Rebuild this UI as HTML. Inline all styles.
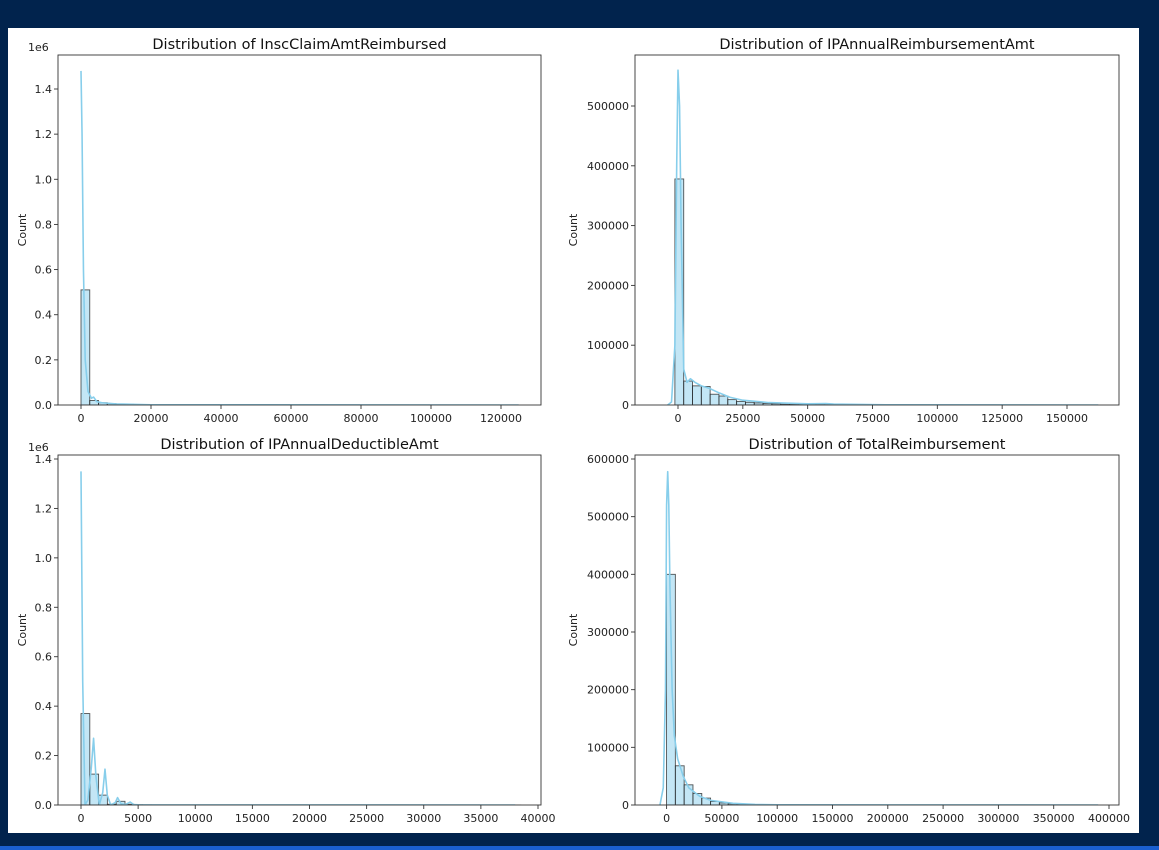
<!DOCTYPE html>
<html><head><meta charset="utf-8"><style>
html,body{margin:0;padding:0;width:1159px;height:850px;overflow:hidden;background:#01234d;}
svg{display:block;font-family:"DejaVu Sans","Liberation Sans",sans-serif;}
</style></head><body>
<svg id="fig" width="1159" height="850" viewBox="0 0 1159 850" xmlns="http://www.w3.org/2000/svg">
<rect x="0" y="0" width="1159" height="850" fill="#01234d"/>
<rect x="0" y="846" width="1159" height="4" fill="#1a5fd0"/>
<rect x="8" y="28" width="1131" height="805" fill="#ffffff"/>
</svg>
<script>
// ---- Panel 1: InscClaimAmtReimbursed ----
const p1BinStart = 0;
const p1BinWidth = 2500;
const p1Counts = [510000,20000,10000,6000,4000,3000,2000,1500,1000,800,600,500,400,300,250,200,150,120,100,80,60,50,40,30,30,20,20,15,10,10,10,8,6,5,4,3,3,2,2,2,1,1,1,1,1,1,1,1,1,1];
const p1KdeX = [0,300,700,1200,2000,3000,3600,4500,6000,10000,20000,125000];
const p1KdeY = [1480000,1200000,600000,200000,60000,30000,35000,15000,10000,5000,1000,0];
const p1YTicks = [0,0.2e6,0.4e6,0.6e6,0.8e6,1.0e6,1.2e6,1.4e6];
const p1YLabels = ["0.0","0.2","0.4","0.6","0.8","1.0","1.2","1.4"];
const p1XTicks = [0,20000,40000,60000,80000,100000,120000];

// ---- Panel 2: IPAnnualReimbursementAmt ----
const p2BinStart = -8000;
const p2BinWidth = 3400;
const p2Counts = [0,0,378000,40000,32000,31000,18000,15000,9000,6000,4500,3500,2500,2000,1500,1200,1000,900,700,500,400,300,250,200,150,120,100,80,60,50,40,30,25,20,15,10,10,8,6,5,4,3,3,2,2,1,1,1,1,1];
const p2KdeX = [-4000,-2500,-1200,-500,0,600,1200,2200,3500,4800,6500,9000,12000,16000,20000,25000,35000,50000,57000,60000,80000,162000];
const p2KdeY = [0,5000,100000,400000,560000,500000,300000,60000,38000,44000,38000,32000,28000,20000,13000,8000,4000,2000,2500,1500,300,0];
const p2YTicks = [0,100000,200000,300000,400000,500000];
const p2XTicks = [0,25000,50000,75000,100000,125000,150000];

// ---- Panel 3: IPAnnualDeductibleAmt ----
const p3BinStart = 0;
const p3BinWidth = 770;
const p3Counts = [370000,125000,40000,3000,15000,3000,1000,500,300,200,150,100,80,60,50,40,30,20,20,15,10,10,8,6,5,4,3,3,2,2,2,1,1,1,1,1,1,1,1,1,1,1,1,1,1,1,1,1,1,1];
const p3KdeX = [0,150,350,600,900,1100,1300,1600,1900,2100,2300,2600,3000,3200,3500,3900,4300,4600,5000,6000,38000];
const p3KdeY = [1350000,500000,0,20000,150000,270000,120000,0,50000,145000,40000,0,10000,30000,5000,2000,12000,2000,1000,500,0];
const p3YTicks = [0,0.2e6,0.4e6,0.6e6,0.8e6,1.0e6,1.2e6,1.4e6];
const p3YLabels = ["0.0","0.2","0.4","0.6","0.8","1.0","1.2","1.4"];
const p3XTicks = [0,5000,10000,15000,20000,25000,30000,35000,40000];

// ---- Panel 4: TotalReimbursement ----
const p4BinStart = -8000;
const p4BinWidth = 7960;
const p4Counts = [0,400000,68000,35000,20000,12000,6000,3500,2000,1200,800,600,400,300,200,150,120,100,80,60,50,40,30,25,20,15,10,10,8,6,5,4,3,3,2,2,2,1,1,1,1,1,1,1,1,1,1,1,1,1];
const p4KdeX = [-6000,-3000,-1000,0,1000,2000,3000,5000,7000,10000,15000,20000,30000,40000,60000,80000,100000,390000];
const p4KdeY = [0,30000,200000,520000,578000,520000,380000,200000,120000,80000,50000,30000,15000,8000,3000,1000,300,0];
const p4YTicks = [0,100000,200000,300000,400000,500000,600000];
const p4XTicks = [0,50000,100000,150000,200000,250000,300000,350000,400000];

const NS = "http://www.w3.org/2000/svg";
const fig = document.getElementById("fig");
function mk(tag, attrs, parent){
  const e = document.createElementNS(NS, tag);
  for (const k in attrs) e.setAttribute(k, attrs[k]);
  (parent||fig).appendChild(e);
  return e;
}
function fmtInt(v){ return String(Math.round(v)); }

function panel(cfg){
  const g = mk("g", {});
  
  
  const {x0,x1,y0,y1} = cfg.box;
  // linear scales calibrated from two reference ticks
  const sx = v => cfg.xa.p0 + (v - cfg.xa.v0) * (cfg.xa.p1 - cfg.xa.p0) / (cfg.xa.v1 - cfg.xa.v0);
  const sy = v => cfg.ya.p0 + (v - cfg.ya.v0) * (cfg.ya.p1 - cfg.ya.p0) / (cfg.ya.v1 - cfg.ya.v0);
  const clip = "clip-" + cfg.name;
  const cp = mk("clipPath", {id: clip}, g);
  mk("rect", {x:x0, y:y0, width:x1-x0, height:y1-y0}, cp);
  // bars
  const bars = mk("g", {"clip-path":"url(#"+clip+")"}, g);
  
  
  cfg.counts.forEach((c, i) => {
    if (c <= 0) return;
    const a = cfg.binStart + i*cfg.binWidth, b = a + cfg.binWidth;
    const top = sy(c), base = sy(0);
    const r = mk("rect", {x:sx(a), y:top, width:Math.max(0.1, sx(b)-sx(a)), height:Math.max(0, base-top),
      fill:"rgba(135,206,235,0.5)", stroke:"rgba(30,30,30,0.75)", "stroke-width":0.9});
    bars.appendChild(r);
    
    
  });
  // kde
  let d = "";
  cfg.kdeX.forEach((xv, i) => { d += (i ? "L" : "M") + sx(xv).toFixed(2) + "," + sy(cfg.kdeY[i]).toFixed(2); });
  const kde = mk("path", {d:d, fill:"none", stroke:"#87ceeb", "stroke-width":1.6, "stroke-linejoin":"round", "clip-path":"url(#"+clip+")"}, g);
  
  
  // frame
  const fr = mk("rect", {x:x0, y:y0, width:x1-x0, height:y1-y0, fill:"none", stroke:"#333", "stroke-width":0.9}, g);
  
  
  // y ticks
  cfg.yTicks.forEach((t, i) => {
    const y = sy(t);
    mk("line", {x1:x0-4, x2:x0, y1:y, y2:y, stroke:"#333", "stroke-width":0.9}, g);
    const tx = mk("text", {x:x0-6, y:y+4, "text-anchor":"end", "font-size":11, fill:"#222"}, g);
    tx.textContent = cfg.yLabels ? cfg.yLabels[i] : fmtInt(t);
    
    
  });
  // x ticks
  cfg.xTicks.forEach(t => {
    const x = sx(t);
    mk("line", {x1:x, x2:x, y1:y1, y2:y1+4, stroke:"#333", "stroke-width":0.9}, g);
    const tx = mk("text", {x:x, y:y1+17, "text-anchor":"middle", "font-size":11, fill:"#222"}, g);
    tx.textContent = fmtInt(t);
    
    
  });
  // title
  const ti = mk("text", {x:(x0+x1)/2, y:y0-6, "text-anchor":"middle", "font-size":14.5, fill:"#111"}, g);
  ti.textContent = cfg.title;
  
  
  // y label
  const yl = mk("text", {x:cfg.ylx, y:(y0+y1)/2, "text-anchor":"middle", "font-size":11, fill:"#222",
    transform:"rotate(-90 "+cfg.ylx+" "+((y0+y1)/2)+")"}, g);
  yl.textContent = "Count";
  
  
  if (cfg.offset) {
    const of = mk("text", {x:x0-30, y:y0-4, "font-size":11, fill:"#222"}, g);
    of.textContent = cfg.offset;
    
    
  }
}

panel({name:"panel-insc-claim", title:"Distribution of InscClaimAmtReimbursed",
  box:{x0:58,x1:541,y0:55,y1:405}, xa:{v0:0,p0:81,v1:120000,p1:501}, ya:{v0:0,p0:405,v1:1.4e6,p1:89},
  binStart:p1BinStart, binWidth:p1BinWidth, counts:p1Counts, kdeX:p1KdeX, kdeY:p1KdeY,
  yTicks:p1YTicks, yLabels:p1YLabels, xTicks:p1XTicks, ylx:26, offset:"1e6"});
panel({name:"panel-ip-reimbursement", title:"Distribution of IPAnnualReimbursementAmt",
  box:{x0:635,x1:1119,y0:55,y1:405}, xa:{v0:0,p0:678,v1:150000,p1:1067}, ya:{v0:0,p0:405,v1:500000,p1:106},
  binStart:p2BinStart, binWidth:p2BinWidth, counts:p2Counts, kdeX:p2KdeX, kdeY:p2KdeY,
  yTicks:p2YTicks, xTicks:p2XTicks, ylx:577});
panel({name:"panel-ip-deductible", title:"Distribution of IPAnnualDeductibleAmt",
  box:{x0:58,x1:541,y0:455,y1:805}, xa:{v0:0,p0:81,v1:40000,p1:538}, ya:{v0:0,p0:805,v1:1.4e6,p1:459},
  binStart:p3BinStart, binWidth:p3BinWidth, counts:p3Counts, kdeX:p3KdeX, kdeY:p3KdeY,
  yTicks:p3YTicks, yLabels:p3YLabels, xTicks:p3XTicks, ylx:26, offset:"1e6"});
panel({name:"panel-total-reimbursement", title:"Distribution of TotalReimbursement",
  box:{x0:635,x1:1119,y0:455,y1:805}, xa:{v0:0,p0:666.6,v1:400000,p1:1109}, ya:{v0:0,p0:805,v1:600000,p1:459},
  binStart:p4BinStart, binWidth:p4BinWidth, counts:p4Counts, kdeX:p4KdeX, kdeY:p4KdeY,
  yTicks:p4YTicks, xTicks:p4XTicks, ylx:577});
</script>
</body></html>
